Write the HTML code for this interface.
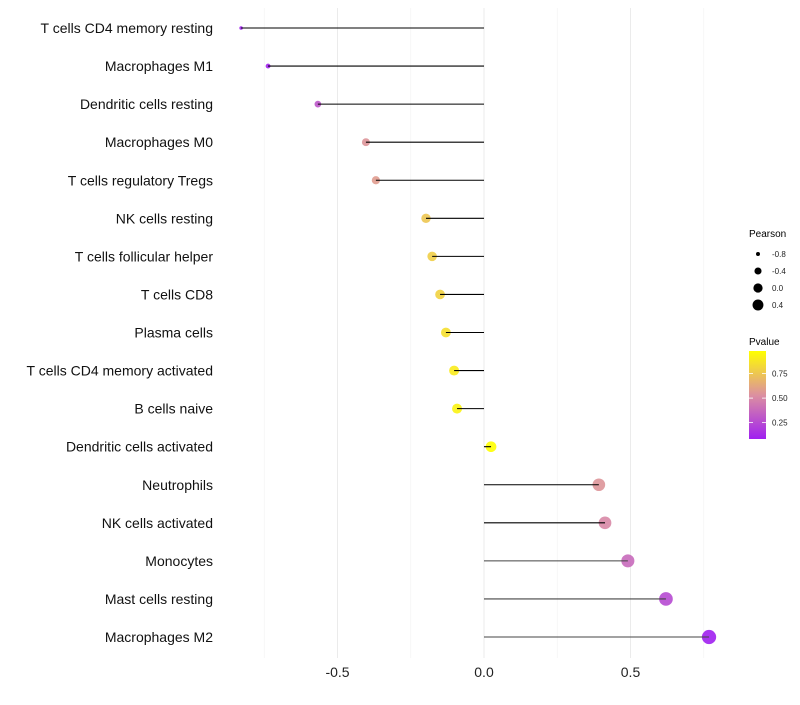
<!DOCTYPE html>
<html><head><meta charset="utf-8"><style>
body{margin:0;background:#fff;font-family:"Liberation Sans",sans-serif;}
svg text{font-family:"Liberation Sans",sans-serif;}
</style></head><body>
<svg id="chart" width="800" height="700" xmlns="http://www.w3.org/2000/svg">
<g id="grid"></g>
<g id="points"></g>
<g id="marks"></g>
<g id="ylabels"></g>
<g id="xlabels"></g>
<g id="legend">
<defs><linearGradient id="pg" x1="0" y1="0" x2="0" y2="1">
<stop offset="0" stop-color="#ffff00"/><stop offset="0.5" stop-color="#dc90a0"/><stop offset="1" stop-color="#a020f0"/></linearGradient></defs>
<text x="749" y="237" font-size="10">Pearson</text>
<text x="749" y="345" font-size="10">Pvalue</text>
<rect x="749" y="351" width="17" height="88" fill="url(#pg)"/>
</g>
</svg>
<script>
const categories=["T cells CD4 memory resting","Macrophages M1","Dendritic cells resting","Macrophages M0","T cells regulatory  Tregs","NK cells resting","T cells follicular helper","T cells CD8","Plasma cells","T cells CD4 memory activated","B cells naive","Dendritic cells activated","Neutrophils","NK cells activated","Monocytes","Mast cells resting","Macrophages M2"];
const pearson=[-0.829,-0.737,-0.567,-0.403,-0.369,-0.198,-0.177,-0.150,-0.130,-0.102,-0.092,0.024,0.392,0.413,0.491,0.621,0.768];
const pvalue=[0.05,0.1,0.3,0.55,0.58,0.75,0.78,0.8,0.85,0.9,0.93,0.98,0.55,0.5,0.38,0.25,0.08];
const xTicks=[-0.5,0,0.5];
const xTickLabels=["-0.5","0.0","0.5"];
const xGrid=[-0.75,-0.25,0.25,0.75];
const sizeBreaks=[-0.8,-0.4,0.0,0.4];
const sizeLabels=["-0.8","-0.4","0.0","0.4"];
const pBreaks=[0.75,0.5,0.25];
const pLabels=["0.75","0.50","0.25"];

const NS="http://www.w3.org/2000/svg";
const x=v=>484+v*293;
const y=i=>28+i*(609/(categories.length-1));
const r=v=>Math.sqrt(Math.max(2,28+30*v));
const rl=v=>Math.sqrt(Math.max(2,21.3+21.7*v));
function lerp(a,b,t){return a.map((c,i)=>Math.round(c+(b[i]-c)*t));}
function color(p){const t=Math.min(1,Math.max(0,(p-0.083)/(0.98-0.083)));
 const P=[160,32,240],M=[220,144,160],Y=[255,255,0];
 const c=t<0.5?lerp(P,M,t/0.5):lerp(M,Y,(t-0.5)/0.5);return `rgb(${c})`;}
function mk(tag,attrs,parent){const e=document.createElementNS(NS,tag);for(const k in attrs)e.setAttribute(k,attrs[k]);parent.appendChild(e);return e;}
const grid=document.getElementById('grid'),pts=document.getElementById('points'),marks=document.getElementById('marks'),yl=document.getElementById('ylabels'),xl=document.getElementById('xlabels'),lg=document.getElementById('legend');
xGrid.forEach(v=>{const l=mk('line',{x1:x(v),x2:x(v),y1:8,y2:658,stroke:'#f2f2f2','stroke-width':0.6},grid);

});
xTicks.forEach((v,i)=>{const l=mk('line',{x1:x(v),x2:x(v),y1:8,y2:658,stroke:'#ebebeb','stroke-width':1},grid);


const t=mk('text',{x:x(v),y:677,'font-size':14,'text-anchor':'middle',fill:'#222'},xl);t.textContent=xTickLabels[i];

});
categories.forEach((c,i)=>{
 const t=mk('text',{x:213,y:y(i)+5,'font-size':14,'text-anchor':'end',fill:'#111'},yl);t.textContent=c;
 
 
 const ci=mk('circle',{cx:x(pearson[i]),cy:y(i),r:r(pearson[i]),fill:color(pvalue[i]),'fill-opacity':0.9},pts);
 
 
 const ln=mk('line',{x1:x(0),x2:x(pearson[i]),y1:y(i),y2:y(i),stroke:i>13?'#444':'#000','stroke-width':1.1},marks);
 
 
});
sizeBreaks.forEach((v,i)=>{const cy=254+i*17;
 const c=mk('circle',{cx:758,cy:cy,r:rl(v),fill:'#000'},lg);
 
 
 const t=mk('text',{x:772,y:cy+3,'font-size':8,fill:'#222'},lg);t.textContent=sizeLabels[i];
 
 });
pBreaks.forEach((p,i)=>{const cy=351+(0.98-p)/(0.98-0.083)*88;
 const t=mk('text',{x:772,y:cy+3,'font-size':8,fill:'#222'},lg);t.textContent=pLabels[i];
 
 
 const l=mk('line',{x1:749,x2:753,y1:cy,y2:cy,stroke:'#fff','stroke-width':0.8},lg);
 
 
 const l2=mk('line',{x1:762,x2:766,y1:cy,y2:cy,stroke:'#fff','stroke-width':0.8},lg);
 
 });
</script>
</body></html>
